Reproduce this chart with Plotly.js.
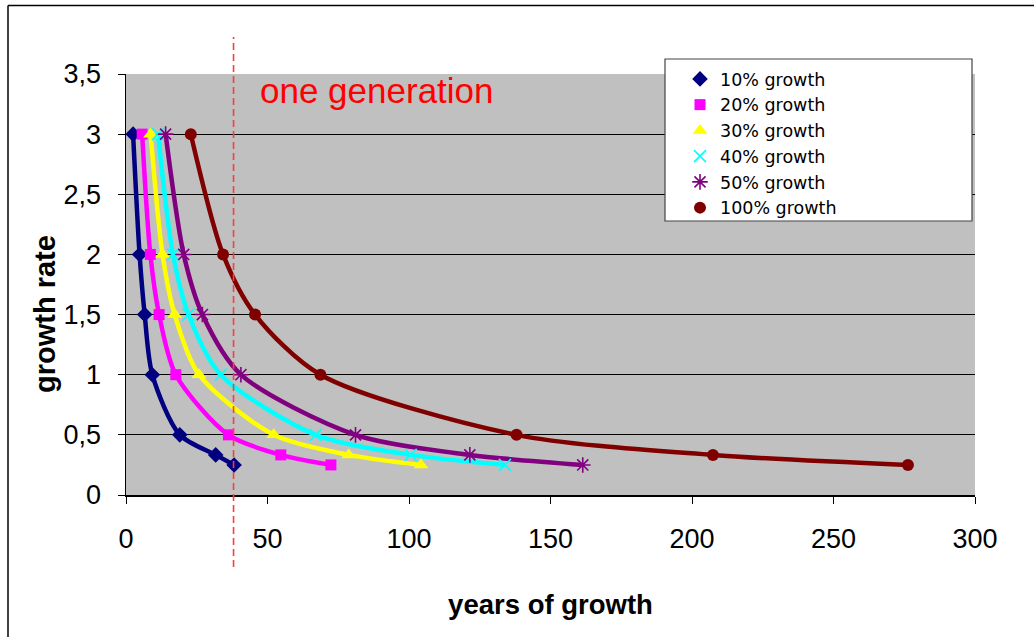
<!DOCTYPE html>
<html>
<head>
<meta charset="utf-8">
<script src="https://cdn.plot.ly/plotly-3.0.1.min.js"></script>
<style>html,body{margin:0;padding:0;background:#fff;}#chart{width:1034px;height:637px;}</style>
</head>
<body>
<div id="chart"></div>
<script>
// growth rate (y) for each marker
const rates = [3, 2, 1.5, 1, 0.5, 1/3, 0.25];
// years of growth (x) per series
const years10  = [2.5, 4.8, 6.6, 9.3, 19.0, 31.7, 38.2];
const years20  = [5.7, 8.6, 11.7, 17.6, 36.2, 54.7, 72.4];
const years30  = [8.7, 12.9, 17.2, 25.8, 52.2, 78.7, 104.2];
const years40  = [11.3, 16.6, 22.1, 33.5, 67.0, 100.6, 133.9];
const years50  = [14.0, 20.4, 27.0, 40.6, 81.1, 121.5, 161.4];
const years100 = [22.9, 34.3, 45.6, 68.7, 138.0, 207.4, 276.3];
const seriesNames = ["10% growth", "20% growth", "30% growth", "40% growth", "50% growth", "100% growth"];
const generationYears = 38;
const annotationText = "one generation";
const xTitle = "years of growth";
const yTitle = "growth rate";

const seriesData = [years10, years20, years30, years40, years50, years100];
const colors = ["#000080", "#ff00ff", "#ffff00", "#00ffff", "#800080", "#800000"];
const symbols = ["diamond", "square", "triangle-up", "x-thin-open", "asterisk-open", "circle"];
const sizes = [12, 11, 13, 12, 13, 12];

const traces = [];
seriesData.forEach((xs, i) => {
  traces.push({
    x: xs, y: rates, type: "scatter", mode: "lines",
    line: {color: colors[i], width: 4.5, shape: "spline", smoothing: 0.8},
    showlegend: false, hoverinfo: "skip"
  });
});
seriesData.forEach((xs, i) => {
  const open = symbols[i].indexOf("open") >= 0;
  traces.push({
    x: xs, y: rates, type: "scatter", mode: "markers", name: seriesNames[i],
    marker: {color: colors[i], symbol: symbols[i], size: sizes[i],
      line: open ? {color: colors[i], width: 1.6} : {width: 0}}
  });
});

// pixel -> paper helpers for layout decoration
const L = 126, T = 74, W = 849, H = 421;
const px = v => (v - L) / W;
const py = v => (T + H - v) / H;

const tickFont = {family: "Liberation Sans, Arial, sans-serif", size: 27, color: "#000"};

const layout = {
  width: 1034, height: 637,
  margin: {l: L, r: 1034 - L - W, t: T, b: 637 - T - H},
  paper_bgcolor: "#ffffff",
  plot_bgcolor: "#c0c0c0",
  separators: ",.",
  showlegend: true,
  xaxis: {
    range: [0, 300], dtick: 50, tick0: 0,
    showgrid: false, zeroline: false,
    showline: true, linecolor: "#000", linewidth: 1.5,
    ticks: "outside", ticklen: 7, tickcolor: "#000",
    ticklabelstandoff: 12,
    tickfont: tickFont,
    title: {text: xTitle, standoff: 42,
      font: {family: "Liberation Sans, Arial, sans-serif", size: 27.5, weight: "bold", color: "#000"}}
  },
  yaxis: {
    range: [0, 3.5], dtick: 0.5, tick0: 0,
    showgrid: true, gridcolor: "#000", gridwidth: 1,
    zeroline: false,
    showline: true, linecolor: "#000", linewidth: 1.5,
    ticks: "outside", ticklen: 7, tickcolor: "#000",
    ticklabelstandoff: 11,
    tickfont: tickFont
  },
  legend: {
    x: px(680), y: py(61), xanchor: "left", yanchor: "top",
    bgcolor: "rgba(0,0,0,0)", borderwidth: 0,
    font: {family: "DejaVu Sans, sans-serif", size: 17.5, color: "#000"},
    itemclick: false
  },
  shapes: [
    // legend box
    {type: "rect", xref: "paper", yref: "paper", x0: px(665), x1: px(972), y0: py(221), y1: py(59),
     fillcolor: "#ffffff", line: {color: "#444", width: 1.2}, layer: "above"},
    // one generation marker
    {type: "line", xref: "x", yref: "paper", x0: generationYears, x1: generationYears, y0: py(567), y1: py(37),
     line: {color: "#ff3b3b", width: 1.6, dash: "7px,4px"}, layer: "above"},
    // outer chart frame
    {type: "line", xref: "paper", yref: "paper", x0: px(8), x1: px(1034), y0: py(5.5), y1: py(5.5),
     line: {color: "#000", width: 1.5}},
    {type: "line", xref: "paper", yref: "paper", x0: px(8), x1: px(8), y0: py(5.5), y1: py(637),
     line: {color: "#000", width: 1.5}}
  ],
  annotations: [
    {text: annotationText, xref: "x", yref: "paper", x: 46.6, y: py(90), xanchor: "left", yanchor: "middle",
     showarrow: false, font: {family: "Liberation Sans, Arial, sans-serif", size: 35, color: "#ff0000"}},
    {text: yTitle, xref: "paper", yref: "paper", x: px(45), y: py(314), xanchor: "center", yanchor: "middle",
     textangle: -90, showarrow: false,
     font: {family: "Liberation Sans, Arial, sans-serif", size: 29, weight: "bold", color: "#000"}}
  ]
};

Plotly.newPlot("chart", traces, layout, {displayModeBar: false, staticPlot: true});
</script>
</body>
</html>
